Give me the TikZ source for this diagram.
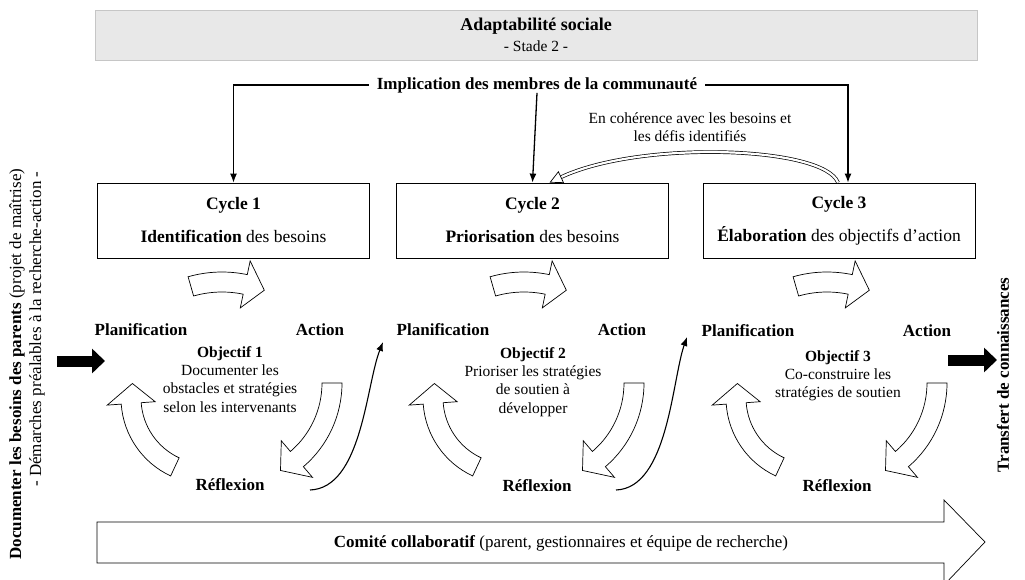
\documentclass[tikz,border=0pt]{standalone}
\usepackage{fontspec}
\setmainfont{Liberation Serif}
\usetikzlibrary{arrows.meta}

\tikzset{
	lab/.style={font=\fontsize{17}{20}\selectfont\bfseries, inner sep=0pt},
	txt/.style={font=\fontsize{15.5}{18.3}\selectfont, align=center, inner sep=0pt},
	cyclebox/.style={draw, line width=0.8pt, minimum width=272pt, minimum height=75pt,
		align=center, font=\fontsize{17.5}{20}\selectfont},
	blockarrow/.style={draw, fill=white, line width=0.7pt},
	link/.style={line width=1.3pt, -{Latex[length=9pt,width=7pt]}},
	fat/.style={line width=11pt, -{Triangle[length=13pt,width=24pt]}},
	dbl/.style={double, line width=0.7pt, double distance=2.2pt, -{Triangle[open,length=13pt,width=13pt]}},
	pics/turn/.style n args={3}{code={
		\pgfmathsetmacro\hb{#3+20/#1*57.3}
		\draw[blockarrow] (#2:{#1+10}) arc[start angle=#2, end angle=\hb, radius=#1+10]
			-- (\hb:{#1+24}) -- (#3:#1) -- (\hb:{#1-24}) -- (\hb:{#1-10})
			arc[start angle=\hb, end angle=#2, radius=#1-10] -- cycle;
	}}
}

\begin{document}
\begin{tikzpicture}[x=1pt,y=1pt]
	\useasboundingbox (0,0) rectangle (1025,-580);

	% stade
	\node[draw=gray!45, fill=gray!18, minimum width=882pt, minimum height=50pt, align=center] (stade) at (536,-35)
		{\fontsize{18}{20}\selectfont\bfseries Adaptabilité sociale\\[5pt] \fontsize{15.5}{18}\selectfont - Stade 2 -};
	\node[lab] (impl) at (537,-85) {Implication des membres de la communauté};
	\node[txt] (coh) at (690,-127) {En cohérence avec les besoins et\\les défis identifiés};

	% cycles
	\node[cyclebox] (c1) at (233.5,-220.5) {\textbf{Cycle 1}\\[13pt]\textbf{Identification} des besoins};
	\node[cyclebox] (c2) at (532.5,-220.5) {\textbf{Cycle 2}\\[13pt]\textbf{Priorisation} des besoins};
	\node[cyclebox] (c3) at (839,-220.5) {\textbf{Cycle 3}\\[13pt]\textbf{Élaboration} des objectifs d’action};

	\draw[link] ([xshift=-8pt]impl.west) -| (c1.north);
	\draw[link] ([xshift=8pt]impl.east) -| ([xshift=9pt]c3.north);
	\draw[link] (impl.south) -- (c2.north);
	\draw[dbl] ([xshift=-1pt]c3.north) .. controls (824,-146) and (640,-140) .. ([xshift=17pt]c2.north);

	% fleches des cycles
	\foreach \dx in {0,302,605}{
		\begin{scope}[xshift=\dx]
			\pic at (222,-395) {turn={113}{106}{68}};
			\pic at (207,-398) {turn={76}{245}{169}};
			\pic at (232,-383) {turn={100}{0}{-61}};
		\end{scope}
	}

	% cycle 1
	\node[lab] (pl1) at (141,-330) {Planification};
	\node[lab] (ac1) at (320,-330) {Action};
	\node[txt, anchor=north] (obj1) at (230,-346) {\textbf{Objectif 1}\\Documenter les\\obstacles et stratégies\\selon les intervenants};
	\node[lab] (re1) at (230,-485) {Réflexion};

	% cycle 2
	\node[lab] (pl2) at (443,-330) {Planification};
	\node[lab] (ac2) at (622,-330) {Action};
	\node[txt, anchor=north] (obj2) at (533,-347) {\textbf{Objectif 2}\\Prioriser les stratégies\\de soutien à\\développer};
	\node[lab] (re2) at (537,-486) {Réflexion};

	% cycle 3
	\node[lab] (pl3) at (748,-331) {Planification};
	\node[lab] (ac3) at (927,-331) {Action};
	\node[txt, anchor=north] (obj3) at (838,-350) {\textbf{Objectif 3}\\Co-construire les\\stratégies de soutien};
	\node[lab] (re3) at (837,-486) {Réflexion};

	% passage d'un cycle a l'autre
	\coordinate (out1) at (310,-490);
	\coordinate (in2) at (383,-342);
	\coordinate (out2) at (616,-490);
	\coordinate (in3) at (687,-337);
	\draw[link, line width=1.1pt] (out1) .. controls (362,-488) and (366,-385) .. (in2);
	\draw[link, line width=1.1pt] (out2) .. controls (668,-488) and (672,-380) .. (in3);

	% entree et sortie
	\node[rotate=90, anchor=east, font=\fontsize{17}{20}\selectfont] (doc) at (17,-165)
		{\textbf{Documenter les besoins des parents} (projet de maîtrise)};
	\node[rotate=90, anchor=east, font=\fontsize{17}{20}\selectfont] (dem) at (37,-168)
		{- Démarches préalables à la recherche-action -};
	\node[lab, rotate=90] (transfert) at (1003,-375) {Transfert de connaissances};
	\coordinate (inA) at (57,-361);
	\coordinate (inB) at (105,-361);
	\coordinate (outA) at (948,-360);
	\coordinate (outB) at (997,-360);
	\draw[fat] (inA) -- (inB);
	\draw[fat] (outA) -- (outB);

	% comite
	\draw[blockarrow] (97,-522) -- (944,-522) -- (944,-500) -- (985,-542) -- (944,-585) -- (944,-563) -- (97,-563) -- cycle;
	\node[txt, font=\fontsize{17}{20}\selectfont] (comite) at (561,-543) {\textbf{Comité collaboratif} (parent, gestionnaires et équipe de recherche)};
\end{tikzpicture}
\end{document}
